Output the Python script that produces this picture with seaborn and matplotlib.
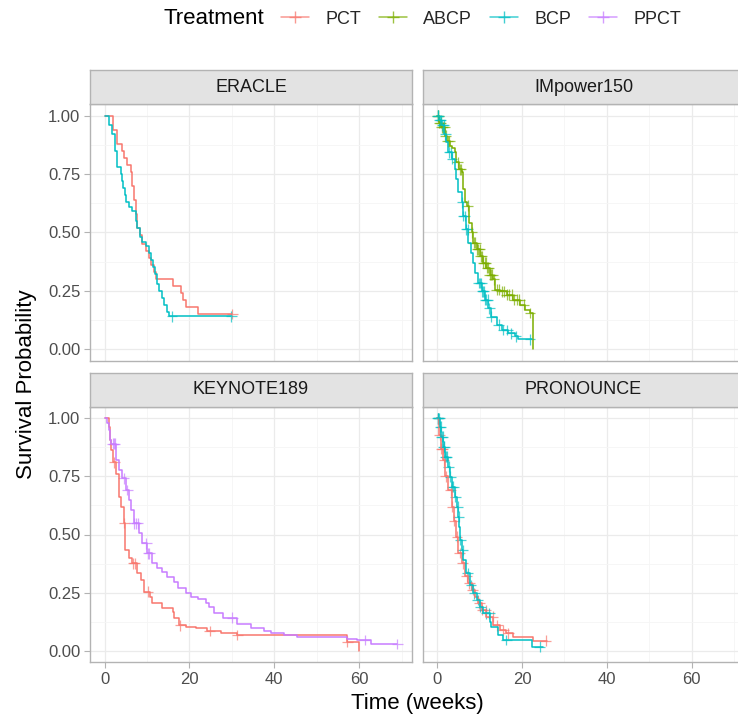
import numpy as np
import pandas as pd
import matplotlib
matplotlib.use("Agg")
import matplotlib.pyplot as plt
from matplotlib.lines import Line2D
import seaborn as sns

# ---------------- data ----------------
trials = ["ERACLE", "IMpower150", "KEYNOTE189", "PRONOUNCE"]
treatments = ["PCT", "ABCP", "BCP", "PPCT"]
colors = ["#F8766D", "#7CAE00", "#00BFC4", "#C77CFF"]
x_ticks = [0, 20, 40, 60]
y_ticks = [0.0, 0.25, 0.5, 0.75, 1.0]
y_tick_labels = ["0.00", "0.25", "0.50", "0.75", "1.00"]

# ERACLE
eracle_pct_t = [0, 2.0, 2.8, 4.2, 4.6, 5.3, 6.1, 6.5, 6.9, 7.3, 7.7, 8.3, 8.9, 9.7, 10.4, 10.9, 11.6, 12.0, 16.0, 17.9, 18.5, 19.1, 21.9, 30.1]
eracle_pct_s = [1.0, 0.94, 0.88, 0.85, 0.82, 0.79, 0.76, 0.70, 0.64, 0.58, 0.52, 0.49, 0.45, 0.42, 0.39, 0.36, 0.33, 0.30, 0.27, 0.24, 0.21, 0.18, 0.15, 0.15]
eracle_pct_cens = [30.1]
eracle_bcp_t = [0, 1.0, 1.8, 2.4, 2.8, 3.9, 4.2, 4.4, 4.7, 5.0, 5.7, 6.5, 7.3, 7.7, 8.3, 8.9, 9.7, 10.4, 10.9, 11.3, 11.8, 12.3, 12.8, 13.6, 14.1, 14.6, 15.2, 29.9]
eracle_bcp_s = [1.0, 0.96, 0.92, 0.85, 0.78, 0.75, 0.72, 0.69, 0.66, 0.63, 0.61, 0.59, 0.55, 0.52, 0.48, 0.46, 0.44, 0.41, 0.38, 0.35, 0.32, 0.28, 0.25, 0.22, 0.19, 0.16, 0.14, 0.14]
eracle_bcp_cens = [15.9, 29.9]

# IMpower150
imp_abcp_t = [0, 0.5, 1.0, 1.8, 2.4, 3.0, 3.6, 4.2, 4.4, 5.2, 5.75, 6.0, 6.5, 7.1, 7.55, 8.1, 8.5, 9.3, 10.1, 10.9, 11.6, 12.4, 13.2, 13.6, 14.8, 16.4, 17.9, 19.5, 20.7, 21.9, 22.5]
imp_abcp_s = [1.0, 0.97, 0.95, 0.915, 0.89, 0.872, 0.86, 0.843, 0.80, 0.77, 0.757, 0.685, 0.628, 0.614, 0.542, 0.50, 0.456, 0.427, 0.398, 0.37, 0.348, 0.319, 0.298, 0.254, 0.248, 0.233, 0.212, 0.19, 0.169, 0.154, 0.0]
imp_abcp_cens = [0.1, 0.3, 0.5, 0.8, 1.1, 1.4, 1.7, 2.0, 2.5, 2.9, 4.8, 5.3, 5.6, 7.2, 8.2, 8.6, 9.0, 9.4, 9.7, 10.0, 10.3, 10.6, 10.9, 11.2, 11.5, 11.8, 12.1, 12.4, 12.7, 13.0, 13.4, 14.0, 14.6, 15.2, 15.8, 16.4, 17.0, 17.6, 18.2, 18.8, 19.4, 20.5, 21.9]
imp_bcp_t = [0, 0.5, 1.0, 1.6, 2.2, 2.6, 3.4, 4.2, 4.4, 4.95, 5.75, 6.1, 6.8, 7.3, 7.9, 8.35, 8.9, 9.7, 10.5, 11.25, 12.0, 12.8, 14.0, 15.2, 16.75, 18.3, 19.1, 22.3]
imp_bcp_s = [1.0, 0.98, 0.958, 0.92, 0.886, 0.843, 0.815, 0.77, 0.728, 0.671, 0.628, 0.57, 0.513, 0.456, 0.412, 0.369, 0.326, 0.283, 0.248, 0.211, 0.175, 0.139, 0.104, 0.082, 0.068, 0.054, 0.042, 0.042]
imp_bcp_cens = [0.1, 0.3, 0.5, 0.7, 0.9, 1.2, 1.5, 1.9, 2.8, 3.2, 3.5, 5.9, 6.2, 6.5, 6.9, 7.2, 9.8, 10.1, 10.4, 10.6, 10.8, 11.0, 11.3, 11.6, 11.9, 12.3, 12.8, 14.5, 15.5, 16.5, 17.4, 18.6, 21.9]

# KEYNOTE189
kn_pct_t = [0, 1.0, 1.3, 1.6, 2.0, 2.6, 3.4, 3.9, 4.6, 4.9, 5.7, 6.5, 7.7, 8.5, 9.3, 10.8, 11.2, 13.6, 16.0, 16.4, 17.5, 19.1, 21.5, 24.2, 27.4, 31.3, 57.2, 60.0]
kn_pct_s = [1.0, 0.964, 0.907, 0.864, 0.81, 0.76, 0.663, 0.62, 0.55, 0.433, 0.398, 0.376, 0.333, 0.304, 0.254, 0.233, 0.204, 0.182, 0.167, 0.14, 0.11, 0.104, 0.096, 0.085, 0.075, 0.067, 0.039, 0.0]
kn_pct_cens = [2.3, 4.6, 6.8, 7.1, 10.2, 17.8, 24.8, 31.3, 57.2]
kn_ppct_t = [0, 0.6, 1.0, 1.3, 1.6, 2.6, 3.4, 4.2, 5.0, 5.7, 6.1, 6.9, 8.1, 8.9, 10.1, 11.2, 12.4, 13.6, 14.8, 16.4, 17.3, 19.1, 20.3, 21.9, 23.8, 24.6, 25.8, 27.8, 31.3, 34.4, 37.6, 39.2, 42.3, 45.4, 50.2, 57.2, 59.6, 62.7, 69.0]
kn_ppct_s = [1.0, 0.978, 0.95, 0.907, 0.89, 0.821, 0.778, 0.742, 0.692, 0.648, 0.605, 0.548, 0.505, 0.462, 0.419, 0.376, 0.354, 0.34, 0.319, 0.297, 0.268, 0.247, 0.232, 0.221, 0.204, 0.189, 0.161, 0.142, 0.115, 0.096, 0.086, 0.075, 0.067, 0.06, 0.057, 0.052, 0.046, 0.029, 0.029]
kn_ppct_cens = [1.9, 2.2, 2.4, 4.5, 5.3, 7.0, 7.4, 7.8, 9.8, 10.2, 10.5, 30.1, 61.3, 69.0]

# PRONOUNCE
pr_pct_t = [0, 0.5, 1.0, 1.4, 1.8, 2.6, 3.4, 3.9, 4.4, 4.95, 5.75, 6.5, 7.3, 8.1, 8.9, 9.7, 10.6, 11.6, 13.2, 14.8, 16.35, 17.9, 22.6, 26.0]
pr_pct_s = [1.0, 0.93, 0.87, 0.82, 0.75, 0.69, 0.62, 0.56, 0.49, 0.42, 0.376, 0.32, 0.29, 0.262, 0.232, 0.204, 0.175, 0.146, 0.11, 0.089, 0.075, 0.057, 0.043, 0.043]
pr_pct_cens = [0.3, 0.6, 1.0, 1.3, 1.6, 2.0, 3.2, 3.6, 4.0, 4.7, 5.3, 6.0, 7.0, 7.6, 8.4, 9.9, 10.6, 11.4, 13.1, 14.2, 15.6, 16.8, 25.6]
pr_bcp_t = [0, 0.6, 1.0, 1.4, 1.8, 2.6, 3.0, 3.4, 4.2, 4.6, 5.0, 5.2, 5.5, 5.8, 6.2, 6.9, 7.7, 8.5, 9.3, 10.1, 10.9, 12.4, 12.8, 14.4, 15.6, 22.25, 25.0]
pr_bcp_s = [1.0, 0.964, 0.921, 0.878, 0.835, 0.792, 0.749, 0.706, 0.663, 0.62, 0.577, 0.534, 0.476, 0.433, 0.39, 0.333, 0.283, 0.247, 0.218, 0.189, 0.161, 0.125, 0.103, 0.067, 0.046, 0.017, 0.017]
pr_bcp_cens = [0.1, 0.2, 0.3, 0.5, 0.7, 0.9, 1.1, 1.3, 1.5, 1.7, 1.9, 2.1, 2.3, 2.7, 3.1, 3.5, 3.8, 4.3, 4.8, 5.1, 5.5, 6.0, 7.2, 8.0, 8.8, 9.6, 10.2, 11.5, 12.3, 16.3, 24.2]

curves = [
    ("ERACLE", "PCT", eracle_pct_t, eracle_pct_s, eracle_pct_cens),
    ("ERACLE", "BCP", eracle_bcp_t, eracle_bcp_s, eracle_bcp_cens),
    ("IMpower150", "ABCP", imp_abcp_t, imp_abcp_s, imp_abcp_cens),
    ("IMpower150", "BCP", imp_bcp_t, imp_bcp_s, imp_bcp_cens),
    ("KEYNOTE189", "PCT", kn_pct_t, kn_pct_s, kn_pct_cens),
    ("KEYNOTE189", "PPCT", kn_ppct_t, kn_ppct_s, kn_ppct_cens),
    ("PRONOUNCE", "PCT", pr_pct_t, pr_pct_s, pr_pct_cens),
    ("PRONOUNCE", "BCP", pr_bcp_t, pr_bcp_s, pr_bcp_cens),
]

# ---------------- tables ----------------
line_rows, cens_rows = [], []
for trial, trt, t, s, cens in curves:
    t = np.asarray(t, float)
    s = np.asarray(s, float)
    for ti, si in zip(t, s):
        line_rows.append((trial, trt, ti, si))
    for c in cens:
        idx = np.searchsorted(t, c, side="right") - 1
        cens_rows.append((trial, trt, c, s[idx]))
lines_df = pd.DataFrame(line_rows, columns=["trial", "Treatment", "time", "surv"])
cens_df = pd.DataFrame(cens_rows, columns=["trial", "Treatment", "time", "surv"])
palette = dict(zip(treatments, colors))

# ---------------- style ----------------
sns.set_style("white")
plt.rcParams["font.family"] = ["Liberation Sans", "DejaVu Sans"]

W, H = 738, 716
fig = plt.figure(figsize=(W / 100, H / 100), dpi=100)


def rect(x0, y0, x1, y1):
    return [x0 / W, 1 - y1 / H, (x1 - x0) / W, (y1 - y0) / H]


panel_px = {
    "ERACLE": (90, 104, 412, 360.7),
    "IMpower150": (422.5, 104, 744.5, 360.7),
    "KEYNOTE189": (90, 406.7, 412, 662.3),
    "PRONOUNCE": (422.5, 406.7, 744.5, 662.3),
}
strip_h = 34
border = "#B3B3B3"

for i, trial in enumerate(trials):
    x0, y0, x1, y1 = panel_px[trial]
    ax = fig.add_axes(rect(x0, y0, x1, y1))
    ax.set_axisbelow(True)
    sub_l = lines_df[lines_df.trial == trial]
    sub_c = cens_df[cens_df.trial == trial]
    sns.lineplot(data=sub_l, x="time", y="surv", hue="Treatment", palette=palette,
                 estimator=None, drawstyle="steps-post", linewidth=1.1,
                 legend=False, ax=ax)
    sns.scatterplot(data=sub_c, x="time", y="surv", hue="Treatment", palette=palette,
                    marker="+", s=60, linewidth=0.9, alpha=0.7, legend=False, ax=ax)
    ax.set_xlim(-3.45, 72.45)
    ax.set_ylim(-0.05, 1.05)
    ax.set_xticks(x_ticks)
    ax.set_xticks([10, 30, 50, 70], minor=True)
    ax.set_yticks(y_ticks)
    ax.set_yticklabels(y_tick_labels)
    ax.set_yticks([0.125, 0.375, 0.625, 0.875], minor=True)
    ax.grid(which="major", color="#EBEBEB", linewidth=0.9)
    ax.grid(which="minor", color="#F5F5F5", linewidth=0.6)
    ax.set_xlabel("")
    ax.set_ylabel("")
    for sp in ax.spines.values():
        sp.set_color(border)
        sp.set_linewidth(1.0)
    ax.tick_params(which="major", length=4, width=0.8, color=border,
                   labelsize=12, labelcolor="#4D4D4D", pad=3)
    ax.tick_params(which="minor", length=0)
    ax.tick_params(axis="x", bottom=(i >= 2), labelbottom=(i >= 2))
    ax.tick_params(axis="y", left=(i % 2 == 0), labelleft=(i % 2 == 0))

    sax = fig.add_axes(rect(x0, y0 - strip_h, x1, y0))
    sax.set_facecolor("#E3E3E3")
    sax.set_xticks([])
    sax.set_yticks([])
    for sp in sax.spines.values():
        sp.set_color(border)
        sp.set_linewidth(1.0)
    sax.text(0.5, 0.5, trial, transform=sax.transAxes, ha="center", va="center",
             fontsize=13, color="#1A1A1A")

# axis titles
fig.text(27 / W, 1 - 384 / H, "Survival Probability", rotation=90,
         ha="center", va="center", fontsize=16, color="black")
fig.text(417.5 / W, 1 - 703 / H, "Time (weeks)", ha="center", va="center",
         fontsize=16, color="black")

# legend at top
fig.text(163 / W, 1 - 19 / H, "Treatment", ha="left", va="center",
         fontsize=16, color="black")
handles = [Line2D([], [], color=c, marker="+", markersize=9, linewidth=1.1,
                  alpha=0.75) for c in colors]
fig.legend(handles, treatments, loc="center left",
           bbox_to_anchor=(281 / W, 1 - 19 / H), ncol=4, frameon=False,
           fontsize=13, handlelength=1.55, handletextpad=0.9,
           columnspacing=1.0, borderaxespad=0, borderpad=0)

fig.savefig("out.png", dpi=100)
